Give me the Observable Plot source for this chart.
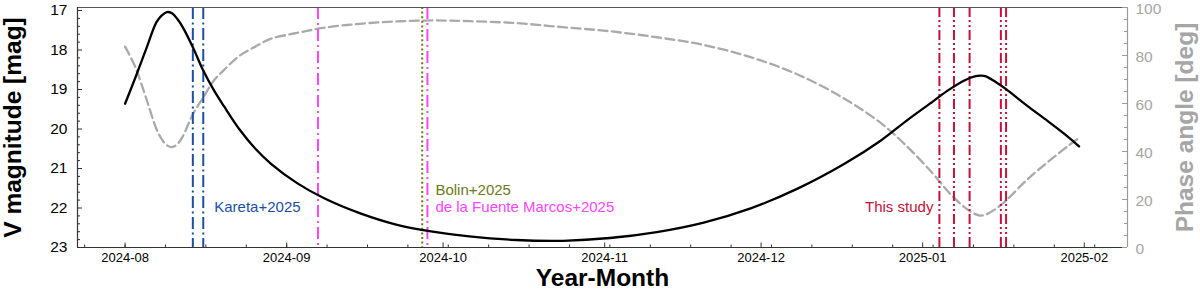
<!DOCTYPE html>
<html><head><meta charset="utf-8">
<script src="https://cdn.jsdelivr.net/npm/d3@7"></script>
<script src="https://cdn.jsdelivr.net/npm/@observablehq/plot@0.6"></script>
<style>body{margin:0;background:#fff;} svg{display:block}</style>
</head><body><div id="chart"></div>
<script>
// ---- data ----
const curveDates = ["2024-08-01","2024-08-03","2024-08-05","2024-08-07","2024-08-08","2024-08-09","2024-08-10","2024-08-11","2024-08-12","2024-08-14","2024-08-16","2024-08-18","2024-08-20","2024-08-23","2024-08-26","2024-08-29","2024-09-03","2024-09-08","2024-09-15","2024-09-22","2024-09-29","2024-10-06","2024-10-15","2024-10-24","2024-11-02","2024-11-11","2024-11-20","2024-11-29","2024-12-08","2024-12-17","2024-12-24","2024-12-29","2025-01-03","2025-01-06","2025-01-09","2025-01-11","2025-01-12","2025-01-13","2025-01-15","2025-01-17","2025-01-21","2025-01-25","2025-01-29","2025-01-31"];
const vMagnitude = [19.36,18.69,17.99,17.30,17.13,17.04,17.07,17.21,17.41,17.93,18.52,19.01,19.43,20.02,20.50,20.88,21.37,21.74,22.13,22.42,22.60,22.72,22.81,22.83,22.76,22.61,22.37,22.01,21.51,20.88,20.29,19.78,19.30,19.01,18.77,18.67,18.65,18.66,18.81,18.99,19.41,19.80,20.21,20.44];
const phaseAngle = [83.7,75.0,62.5,49.5,45.3,42.6,41.8,43.0,46.0,55.5,62.5,69.5,74.0,80.0,83.7,87.0,89.4,91.5,93.2,94.2,94.6,94.3,93.5,91.8,90.1,87.6,84.4,79.3,72.1,62.0,51.8,42.1,30.7,23.0,16.8,14.0,13.3,13.6,16.1,19.6,28.2,35.6,42.5,45.7];

const karetaDates = ["2024-08-14","2024-08-16"];
const fuenteDates = ["2024-09-07","2024-09-28"];
const bolinDates = ["2024-09-27"];
const thisStudyDates = ["2025-01-04T05:00","2025-01-07","2025-01-10","2025-01-16","2025-01-17"];

const monthTickDates = ["2024-08-01","2024-09-01","2024-10-01","2024-11-01","2024-12-01","2025-01-01","2025-02-01"];
const monthTickLabels = ["2024-08","2024-09","2024-10","2024-11","2024-12","2025-01","2025-02"];
const magTicks = [17,18,19,20,21,22,23];
const phaseTicks = [0,20,40,60,80,100];

// ---- layout ----
const W = 1200, H = 297, mL = 77, mR = 73, mT = 7, mB = 50;
const magBottom = 23, magTop = 16.924;
const xDomain = [new Date("2024-07-22T21:00Z"), new Date("2025-02-09T07:00Z")];
const pxPerMag = (H - mT - mB) / (magBottom - magTop);
const msPerPx = (xDomain[1] - xDomain[0]) / (W - mL - mR);
const toMag = p => magBottom - p * (magBottom - magTop) / 100;
const fromMag = m => Math.round((magBottom - m) * 100 / (magBottom - magTop));
const utc = s => new Date(s.length === 10 ? s + "T00:00Z" : s + "Z");

const curve = curveDates.map((d, i) => ({date: utc(d), mag: vMagnitude[i], phase: toMag(phaseAngle[i])}));
const monthTicks = monthTickDates.map((d, i) => ({date: utc(d), label: monthTickLabels[i]}));
const minorX = d3.range(-2, 27).map(k => new Date(Date.UTC(2024, 7, 1) + k * 7.75 * 864e5))
  .filter(d => d > xDomain[0] && d < xDomain[1]);
const minorMag = d3.range(17, 23.001, 0.2).map(v => +v.toFixed(1)).filter(v => !Number.isInteger(v));
const minorPhase = d3.range(0, 101, 5).filter(v => v % 20 !== 0);

const xLeft = xDomain[0], xRight = xDomain[1];
const off = (d, px) => new Date(+d + px * msPerPx);

const blue = "#1c4fa3", magenta = "#ff44ff", olive = "#6b7b1a", crimson = "#c4123a";
const font = "Liberation Sans, Arial, sans-serif";

const chart = Plot.plot({
  width: W, height: H,
  marginLeft: mL, marginRight: mR, marginTop: mT, marginBottom: mB,
  style: {fontFamily: font, background: "#fff"},
  x: {type: "utc", domain: xDomain, axis: null},
  y: {domain: [magBottom, magTop], axis: null},
  marks: [
    // phase angle (right axis), dashed grey
    Plot.line(curve, {x: "date", y: "phase", stroke: "#aaaaaa", strokeWidth: 2.3, strokeDasharray: "9,4.5", curve: "catmull-rom"}),
    // observation epochs
    Plot.ruleX(karetaDates.map(utc), {stroke: blue, strokeWidth: 2, strokeDasharray: "12,3.5,2,3.5"}),
    Plot.ruleX(fuenteDates.map(utc), {stroke: magenta, strokeWidth: 2, strokeDasharray: "12,4,2,4"}),
    Plot.ruleX(bolinDates.map(utc), {stroke: olive, strokeWidth: 2, strokeDasharray: "2,2.6"}),
    Plot.ruleX(thisStudyDates.map(utc), {stroke: crimson, strokeWidth: 2, strokeDasharray: "10,3,2,3,2,3"}),
    // V magnitude
    Plot.line(curve, {x: "date", y: "mag", stroke: "#000", strokeWidth: 2.3, curve: "catmull-rom"}),
    // annotations
    Plot.text(["Kareta+2025"], {x: utc(karetaDates[1]), y: 21.98, dx: 11, text: d => d, textAnchor: "start", fill: blue, fontSize: 15}),
    Plot.text(["Bolin+2025"], {x: utc(fuenteDates[1]), y: 21.55, dx: 8, text: d => d, textAnchor: "start", fill: olive, fontSize: 15}),
    Plot.text(["de la Fuente Marcos+2025"], {x: utc(fuenteDates[1]), y: 21.98, dx: 8, text: d => d, textAnchor: "start", fill: magenta, fontSize: 15}),
    Plot.text(["This study"], {x: utc(thisStudyDates[0]), y: 21.98, dx: -6, text: d => d, textAnchor: "end", fill: crimson, fontSize: 15}),
    // frame
    Plot.ruleY([magTop], {stroke: "#555", strokeWidth: 1.2}),
    Plot.ruleY([magBottom], {stroke: "#333", strokeWidth: 1.2}),
    Plot.ruleX([xLeft], {stroke: "#333", strokeWidth: 1.2}),
    Plot.ruleX([xRight], {stroke: "#9a9a9a", strokeWidth: 1.2}),
    // x ticks (inward)
    Plot.ruleX(monthTicks, {x: "date", y1: magBottom, y2: magBottom - 4.5 / pxPerMag, stroke: "#333", strokeWidth: 1}),
    Plot.ruleX(minorX, {x: d => d, y1: magBottom, y2: magBottom - 2.5 / pxPerMag, stroke: "#333", strokeWidth: 1}),
    Plot.text(monthTicks, {x: "date", text: "label", frameAnchor: "bottom", dy: 14, fontSize: 13, fill: "#000"}),
    // left y ticks
    Plot.ruleY(magTicks, {y: d => d, x1: xLeft, x2: off(xLeft, 5), stroke: "#333", strokeWidth: 1}),
    Plot.ruleY(minorMag, {y: d => d, x1: xLeft, x2: off(xLeft, 3), stroke: "#333", strokeWidth: 1}),
    Plot.text(magTicks, {y: d => d, text: d => String(d), frameAnchor: "left", dx: -10, textAnchor: "end", fontSize: 15.5, fill: "#000"}),
    // right y ticks (phase angle)
    Plot.ruleY(phaseTicks.map(toMag), {y: d => d, x1: off(xRight, -5), x2: xRight, stroke: "#9a9a9a", strokeWidth: 1}),
    Plot.ruleY(minorPhase.map(toMag), {y: d => d, x1: off(xRight, -3), x2: xRight, stroke: "#9a9a9a", strokeWidth: 1}),
    Plot.text(phaseTicks.map(toMag), {y: d => d, text: d => String(fromMag(d)), frameAnchor: "right", dx: 8, dy: 1.5, textAnchor: "start", fontSize: 15.5, fill: "#a6a6a6"}),
    // axis titles
    Plot.text(["V magnitude [mag]"], {text: d => d, frameAnchor: "left", dx: -64, rotate: -90, textAnchor: "middle", fontSize: 24.5, fontWeight: "bold", fill: "#000"}),
    Plot.text(["Phase angle [deg]"], {text: d => d, frameAnchor: "right", dx: 57.5, rotate: -90, textAnchor: "middle", fontSize: 24.5, fontWeight: "bold", fill: "#a6a6a6"}),
    Plot.text(["Year-Month"], {text: d => d, frameAnchor: "bottom", dy: 38.5, fontSize: 24.5, fontWeight: "bold", fill: "#000"})
  ]
});
document.getElementById("chart").append(chart);
</script>
</body></html>
